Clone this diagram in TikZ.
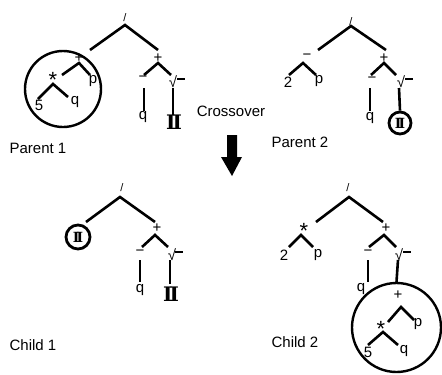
\documentclass[tikz,border=0pt]{standalone}
\usepackage{fontspec}
\setmainfont{Liberation Sans}
\newfontfamily\pifont{DejaVu Serif}
\usetikzlibrary{calc}
\tikzset{
  t/.style={inner sep=0pt, font=\fontsize{15}{17}\selectfont},
  sl/.style={inner sep=0pt, font=\fontsize{11}{12}\selectfont},
  st/.style={inner sep=0pt, font=\fontsize{22}{22}\selectfont},
  lab/.style={inner sep=0pt, font=\fontsize{15}{17}\selectfont},
  edge/.style={line width=2.6pt, line cap=butt},
  ring/.style={draw, circle, line width=2.4pt},
  piglyph/.style={inner sep=0pt, font=\pifont\bfseries\fontsize{20}{20}\selectfont},
  pismall/.style={inner sep=0pt, font=\pifont\bfseries\fontsize{14}{14}\selectfont},
  bar/.style={line width=2.2pt},
}
\newcommand{\pisym}{I\kern-2.8pt I}
\begin{document}
\begin{tikzpicture}[x=1pt,y=-1pt]
\useasboundingbox (0,0) rectangle (442,375);
% ---------------- Parent 1 ----------------
\node[sl] (a1) at (125,18) {/};
\node[t] (a1p) at (79,58) {+};
\node[st] (a1s) at (53,80) {*};
\node[t] (a1pp) at (93,81) {p};
\node[t] (a15) at (39,105) {5};
\node[t] (a1q) at (75,102) {q};
\node[t] (a1r) at (158,58) {+};
\node[t] (a1m) at (143,79) {−};
\node[t] (a1v) at (173,82) {√};
\node[t] (a1q2) at (143,117) {q};
\node[piglyph] (a1pi) at (174,122) {\pisym};
\node[ring, minimum size=76pt] (a1c) at (63,89) {};
\draw[edge] ($(a1p)+(11,-8)$) -- ($(a1)+(0,7)$) -- ($(a1r)+(0,-8)$);
\draw[edge] ($(a1s)+(9,-5)$) -- ($(a1p)+(0,5)$) -- ($(a1pp)+(-3,-6)$);
\draw[edge] ($(a15)+(-1,-6)$) -- ($(a1s)+(0,4)$) -- ($(a1q)+(-7,-5)$);
\draw[edge] ($(a1m)+(1,-4)$) -- ($(a1r)+(0,5)$) -- ($(a1v)+(-2,-7)$);
\draw[edge] ($(a1m)+(1,9)$) -- ($(a1q2)+(1,-6)$);
\draw[edge] ($(a1v)+(0,6)$) -- ($(a1pi)+(-1,-7)$);
\draw[bar] ($(a1v)+(4,-3)$) -- ++(8,0);
% ---------------- Parent 2 ----------------
\node[sl] (b1) at (351,22) {/};
\node[t] (b1m) at (307,57) {−};
\node[t] (b12) at (288,82) {2};
\node[t] (b1pp) at (319,81) {p};
\node[t] (b1r) at (384,58) {+};
\node[t] (b1m2) at (372,80) {−};
\node[t] (b1v) at (401,82) {√};
\node[t] (b1q) at (370,118) {q};
\node[ring, minimum size=22pt, line width=2.8pt] (b1c) at (400,123) {};
\node[pismall] (b1pi) at (400,123) {\pisym};
\draw[edge] ($(b1m)+(11,-7)$) -- ($(b1)+(0,4)$) -- ($(b1r)+(2,-8)$);
\draw[edge] ($(b12)+(1,-7)$) -- ($(b1m)+(-4,6)$) -- ($(b1pp)+(-3,-6)$);
\draw[edge] ($(b1m2)+(-1,-5)$) -- ($(b1r)+(0,5)$) -- ($(b1v)+(-5,-7)$);
\draw[edge] ($(b1m2)+(-2,8)$) -- ($(b1q)+(0,-7)$);
\draw[edge] ($(b1v)+(-2,6)$) -- (b1c.north);
\draw[bar] ($(b1v)+(4,-3)$) -- ++(8,0);
% ---------------- Crossover ----------------
\node[lab] (cross) at (231,111) {Crossover};
\node[lab] (par1) at (38,148) {Parent 1};
\node[lab] (par2) at (300,142) {Parent 2};
\fill (227,135) -- (237,135) -- (237,157) -- (242,157) -- (232,176) -- (221,157) -- (227,157) -- cycle;
% ---------------- Child 1 ----------------
\node[sl] (c1) at (122,188) {/};
\node[ring, minimum size=24pt, line width=2.8pt] (c1c) at (78,237) {};
\node[pismall] (c1pi) at (78,237) {\pisym};
\node[t] (c1r) at (157,228) {+};
\node[t] (c1m) at (140,253) {−};
\node[t] (c1v) at (172,255) {√};
\node[t] (c1q) at (140,290) {q};
\node[piglyph] (c1pi2) at (171,294) {\pisym};
\draw[edge] ($(c1c)+(8,-15)$) -- ($(c1)+(-2,9)$) -- ($(c1r)+(-2,-6)$);
\draw[edge] ($(c1m)+(2,-6)$) -- ($(c1r)+(-2,7)$) -- ($(c1v)+(-4,-8)$);
\draw[edge] ($(c1m)+(0,7)$) -- ($(c1q)+(0,-8)$);
\draw[edge] ($(c1v)+(-2,5)$) -- ($(c1pi2)+(-1,-10)$);
\draw[bar] ($(c1v)+(3,-3)$) -- ++(8,0);
\node[lab] (ch1) at (33,345) {Child 1};
% ---------------- Child 2 ----------------
\node[sl] (d1) at (348,188) {/};
\node[st] (d1s) at (304,231) {*};
\node[t] (d12) at (284,255) {2};
\node[t] (d1pp) at (318,255) {p};
\node[t] (d1r) at (386,228) {+};
\node[t] (d1m) at (368,253) {−};
\node[t] (d1v) at (399,255) {√};
\node[t] (d1q) at (361,289) {q};
\node[ring, minimum size=89pt] (d1c) at (396.5,327.5) {};
\node[t] (d1ip) at (398,295) {+};
\node[t] (d1ipp) at (418,324) {p};
\node[st] (d1is) at (381,329) {*};
\node[t] (d1i5) at (368,352) {5};
\node[t] (d1iq) at (404,351) {q};
\draw[edge] ($(d1s)+(12,-9)$) -- ($(d1)+(1,9)$) -- ($(d1r)+(-3,-6)$);
\draw[edge] ($(d12)+(5,-8)$) -- ($(d1s)+(-3,4)$) -- ($(d1pp)+(-5,-8)$);
\draw[edge] ($(d1m)+(1,-6)$) -- ($(d1r)+(-2,7)$) -- ($(d1v)+(-3,-8)$);
\draw[edge] ($(d1m)+(0,7)$) -- ($(d1q)+(7,-7)$);
\draw[edge] ($(d1v)+(-1,5)$) -- (d1c.north);
\draw[bar] ($(d1v)+(4,-3)$) -- ++(8,0);
\draw[edge] ($(d1is)+(7,-7)$) -- ($(d1ip)+(3,12)$) -- ($(d1ipp)+(-4,-4)$);
\draw[edge] ($(d1i5)+(0,-7)$) -- ($(d1is)+(2,3)$) -- ($(d1iq)+(-6,-6)$);
\node[lab] (ch2) at (295,342) {Child 2};
\end{tikzpicture}
\end{document}
